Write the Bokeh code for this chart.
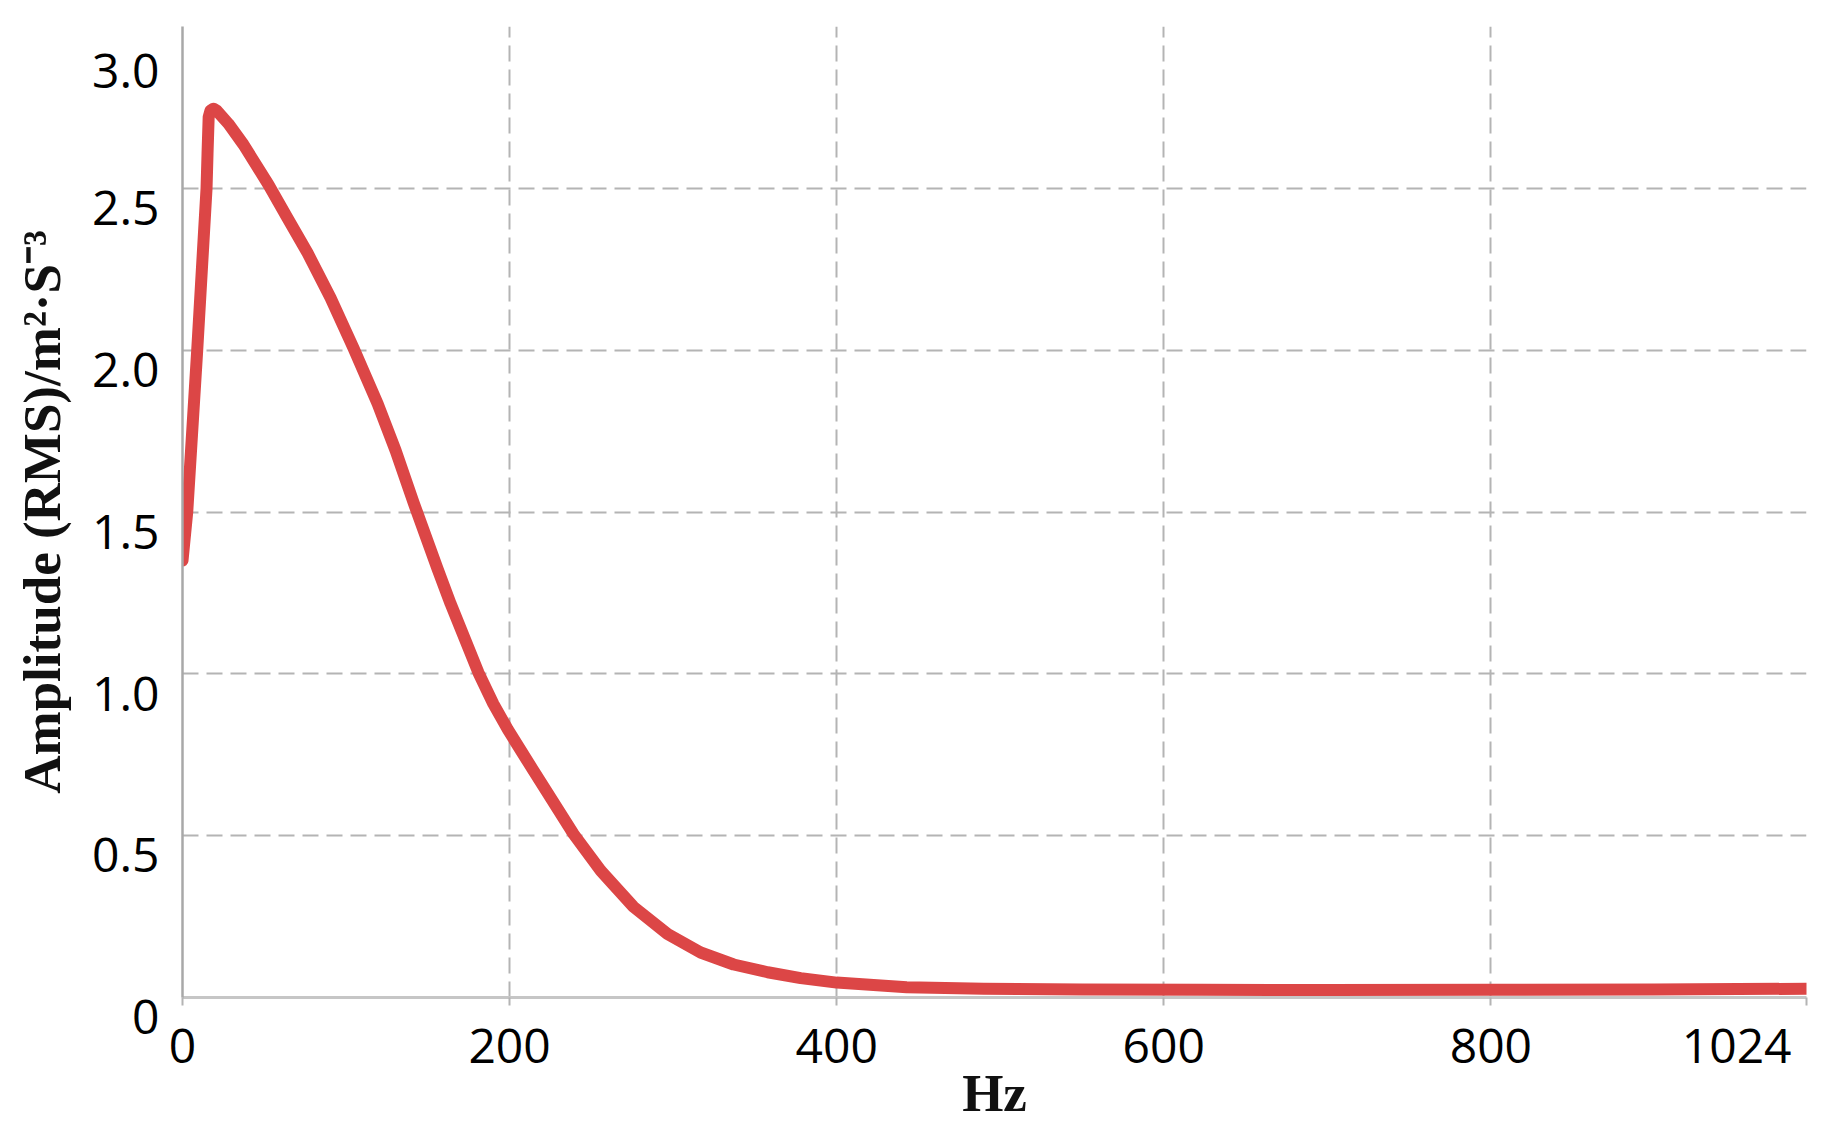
from bokeh.plotting import figure
from bokeh.models import FixedTicker, Range1d
from bokeh.embed import file_html
from bokeh.resources import INLINE

# ---- data ----
freq_hz = [0, 2.9, 9.0, 14.7, 15.3, 16.0, 17.1, 19.0, 21.0, 28.0, 37.3, 52.6,
           64.0, 76.5, 90.5, 104.6, 119.3, 130.3, 141.3, 155.9, 163.9, 181.0,
           190.0, 198.8, 214.7, 239.1, 255.7, 275.8, 296.6, 316.8, 337.0, 357.8,
           378.0, 400.0, 442.8, 489.9, 550, 623, 700, 800, 900, 993]
amplitude = [1.35, 1.50, 2.00, 2.50, 2.607, 2.72, 2.74, 2.746, 2.74, 2.70, 2.635,
             2.511, 2.41, 2.30, 2.162, 2.006, 1.835, 1.690, 1.529, 1.325, 1.217,
             1.003, 0.908, 0.829, 0.700, 0.505, 0.392, 0.280, 0.196, 0.139, 0.102,
             0.078, 0.060, 0.046, 0.032, 0.027, 0.025, 0.024, 0.023, 0.024, 0.025,
             0.027]

x_ticks = [0, 200, 400, 600, 800]
x_end_label = "1024"
y_ticks = [0, 0.5, 1.0, 1.5, 2.0, 2.5, 3.0]
y_tick_labels = ["0", "0.5", "1.0", "1.5", "2.0", "2.5", "3.0"]
x_range_end = 993
y_range_end = 3.0

x_title = "Hz"
y_title = "Amplitude (RMS)/m\u00b2\u00b7S\u207b\u00b3"

TICK_FONT = "Open Sans"
TITLE_FONT = "Liberation Serif"
GRID_COLOR = "#b4b4b4"
NBSP = "\u00a0"

p = figure(width=1816, height=1133, output_backend="svg", toolbar_location=None,
           x_range=Range1d(0, x_range_end), y_range=Range1d(0, y_range_end),
           min_border_left=182, min_border_right=10, min_border_top=26,
           min_border_bottom=136)
p.outline_line_color = None
p.background_fill_color = "white"
p.border_fill_color = "white"

# grid
p.xgrid.ticker = FixedTicker(ticks=[t for t in x_ticks if t > 0])
p.ygrid.ticker = FixedTicker(ticks=[t for t in y_ticks if t > 0])
for g in (p.xgrid, p.ygrid):
    g.grid_line_color = GRID_COLOR
    g.grid_line_width = 2
    g.grid_line_dash = "16 8"

# x axis: the last label sits at the right end of the axis, pushed to the left
xa = p.xaxis[0]
xa.ticker = FixedTicker(ticks=x_ticks + [x_range_end])
xa.major_label_overrides = {x_range_end: x_end_label + NBSP * 2}
xa.axis_line_color = "#c6c6c6"
xa.axis_line_width = 3
xa.major_tick_line_color = GRID_COLOR
xa.major_tick_line_width = 2
xa.major_tick_out = 8
xa.major_tick_in = 0
xa.minor_tick_line_color = None
xa.major_label_text_font = TICK_FONT
xa.major_label_text_font_size = "48px"
xa.major_label_text_color = "black"
xa.major_label_standoff = 6
xa.axis_label = x_title
xa.axis_label_text_font = TITLE_FONT
xa.axis_label_text_font_style = "bold"
xa.axis_label_text_font_size = "53px"
xa.axis_label_text_color = "#111111"
xa.axis_label_standoff = -16

# y axis: labels sit just below their gridlines, as in the reference
ya = p.yaxis[0]
ya.ticker = FixedTicker(ticks=y_ticks)
ya.major_label_overrides = {t: "\n" + s for t, s in zip(y_ticks, y_tick_labels)}
ya.major_label_text_line_height = 0.56
ya.axis_line_color = "#a8a8a8"
ya.axis_line_width = 2.5
ya.major_tick_line_color = None
ya.minor_tick_line_color = None
ya.major_label_text_font = TICK_FONT
ya.major_label_text_font_size = "48px"
ya.major_label_text_color = "black"
ya.major_label_standoff = 17
ya.axis_label = y_title
ya.axis_label_text_font = TITLE_FONT
ya.axis_label_text_font_style = "bold"
ya.axis_label_text_font_size = "53px"
ya.axis_label_text_color = "#111111"
ya.axis_label_standoff = 18

# curve
p.line(freq_hz, amplitude, line_color="#dc4646", line_width=12,
       line_join="round", line_cap="round")

open("out.html", "w").write(file_html(p, INLINE))
